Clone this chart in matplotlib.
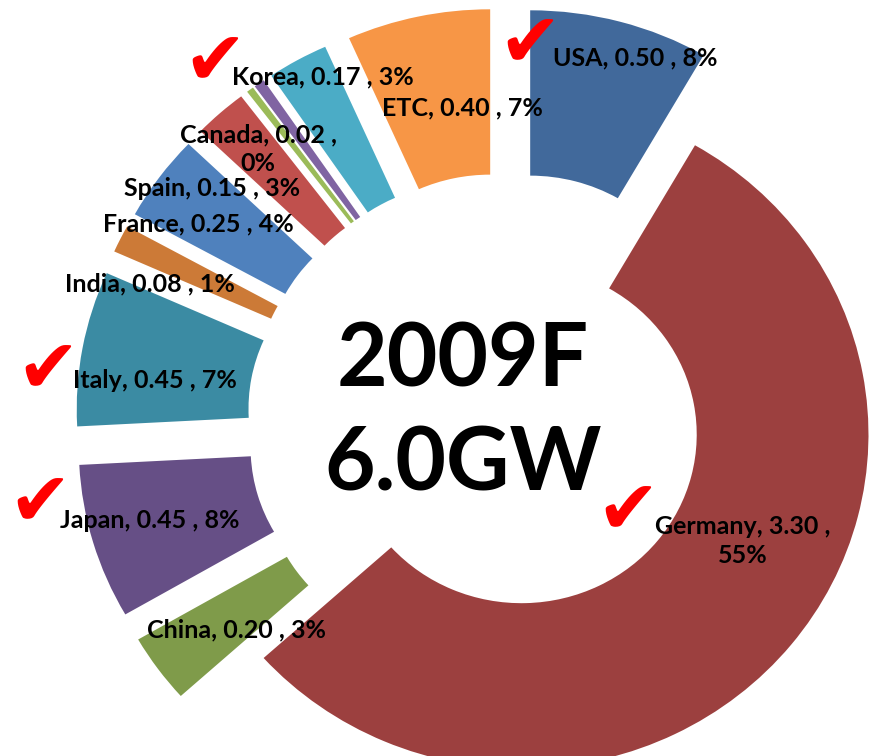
import matplotlib
matplotlib.use('Agg')
import matplotlib.pyplot as plt

# 2009F installed PV by country (GW), clockwise from 12 o'clock
countries = ['USA', 'Germany', 'China', 'Japan', 'Italy', 'India',
             'France', 'Spain', 'Canada', '', 'Korea', 'ETC']
gw = [0.50, 3.30, 0.20, 0.45, 0.45, 0.08, 0.25, 0.15, 0.02, 0.03, 0.17, 0.40]
share = ['8%', '55%', '3%', '8%', '7%', '1%', '4%', '3%', '0%', '', '3%', '7%']
checked = ['USA', 'Germany', 'Japan', 'Italy', 'Korea']

colors = ['#41699B', '#9C403F', '#7F9B4A', '#664F86', '#3B8BA3', '#CC7A37',
          '#4F81BD', '#C0504D', '#9BBB59', '#8064A2', '#4BACC6', '#F79646']
explode = [0.247] * len(gw)
explode[1] = 0.05

W, H = 873, 756
RX, RY = 347.0, 334.0   # the original is a bit wider than tall
cx, cy = 508, 424       # pie centre in px

fig = plt.figure(figsize=(W / 100, H / 100), dpi=100)
ax = fig.add_axes([0, 0, 1, 1])
ax.pie(gw, colors=colors, explode=explode, startangle=90, counterclock=False,
       radius=1, wedgeprops=dict(width=0.495, linewidth=0))
ax.set_aspect('auto')
ax.set_xlim(-cx / RX, (W - cx) / RX)
ax.set_ylim(-(H - cy) / RY, cy / RY)
ax.axis('off')

# label placement (px, centre of text)
label_pos = {
    'USA': (635, 58), 'Germany': (743, 541), 'China': (237, 630),
    'Japan': (150, 521), 'Italy': (155, 381), 'India': (150, 284),
    'France': (198, 224), 'Spain': (212, 188), 'Canada': (258, 149),
    'Korea': (323, 77), 'ETC': (462, 108),
}
two_line = ['Germany', 'Canada']
check_pos = {'USA': (530, 46), 'Korea': (215, 64), 'Italy': (48, 372),
             'Japan': (40, 505), 'Germany': (628, 513)}

font = 'Lato'
for name, v, p in zip(countries, gw, share):
    if not name:
        continue
    x, y = label_pos[name]
    sep = '\n' if name in two_line else ' '
    txt = f'{name}, {v:.2f} ,{sep}{p}'
    fig.text(x / W, 1 - y / H, txt, ha='center', va='center', fontsize=18,
             fontweight='bold', family=font, linespacing=1.3)

for name in checked:
    x, y = check_pos[name]
    fig.text(x / W, 1 - y / H, '\u2714', ha='center', va='center',
             fontsize=54, color='red', family='DejaVu Sans')

fig.text(463 / W, 1 - 361 / H, '2009F', ha='center', va='center',
         fontsize=63, fontweight='bold', family=font)
fig.text(463 / W, 1 - 465 / H, '6.0GW', ha='center', va='center',
         fontsize=63, fontweight='bold', family=font)

fig.savefig('out.png', dpi=100)
